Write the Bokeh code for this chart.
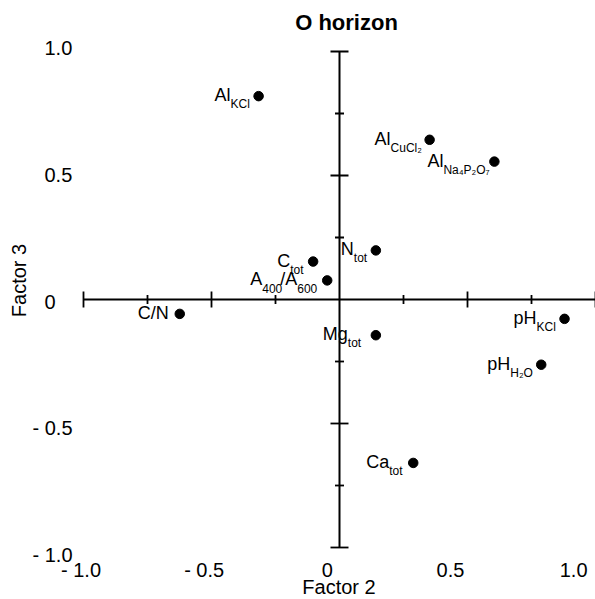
import math
from bokeh.plotting import figure
from bokeh.models import ColumnDataSource, Range1d
from bokeh.embed import file_html
from bokeh.resources import INLINE
from bokeh.core.properties import value

# ---------------- data ----------------
variables = ["Al_KCl", "Al_CuCl2", "Al_Na4P2O7", "N_tot", "C_tot", "A400/A600",
             "Mg_tot", "C/N", "pH_KCl", "pH_H2O", "Ca_tot"]
factor2 = [-0.316, 0.352, 0.605, 0.142, -0.103, -0.048, 0.142, -0.624, 0.879, 0.788, 0.288]
factor3 = [0.820, 0.644, 0.556, 0.198, 0.153, 0.077, -0.144, -0.058, -0.078, -0.263, -0.659]
label_main = [["Al"], ["Al"], ["Al"], ["N"], ["C"], ["A", "/A"], ["Mg"], ["C/N"], ["pH"], ["pH"], ["Ca"]]
label_sub = [["KCl"], ["CuCl\u2082"], ["Na\u2084P\u2082O\u2087"], ["tot"], ["tot"], ["400", "600"],
             ["tot"], [""], ["KCl"], ["H\u2082O"], ["tot"]]

axis_limits = [-1.0, 1.0]
ticks_major = [-1.0, -0.5, 0.5, 1.0]
ticks_minor = [-0.75, -0.25, 0.25, 0.75]
tick_values = [-1.0, -0.5, 0.0, 0.5, 1.0]
tick_labels = ["- 1.0", "- 0.5", "0", "0.5", "1.0"]
title_text = "O horizon"
xlabel_text = "Factor 2"
ylabel_text = "Factor 3"

# ---------------- layout (styling) ----------------
W, H = 595, 599
PAGE = 0
X0, XS = 339.0, 256.0   # page px of x=0, px per unit
Y0, YS = 299.0, 248.0   # page px of y=0, px per unit
# label junction offsets (px from point) where main text ends / subscript starts
junction_dx = [[-28], [-39], [-51], [-22], [-23], [-65, -30], [-28], [-11], [-28], [-31], [-24]]
FONT = value("Liberation Sans")


def px2x(px):
    return (px - X0) / XS


def py2y(py):
    return (Y0 - py) / YS


p = figure(width=W, height=H,
           x_range=Range1d(px2x(PAGE), px2x(PAGE + W)),
           y_range=Range1d(py2y(PAGE + H), py2y(PAGE)),
           x_axis_location=None, y_axis_location=None,
           toolbar_location=None, output_backend="svg",
           min_border=0, outline_line_color=None)
p.background_fill_color = "white"
p.border_fill_color = "white"
p.xgrid.grid_line_color = None
p.ygrid.grid_line_color = None

# separate scales for the printed tick labels (as placed in the original)
LX0, LXS = 326.8, 246.3
LY0, LYS = 301.0, 253.2
p.extra_x_ranges = {"xlab": Range1d((PAGE - LX0) / LXS, (PAGE + W - LX0) / LXS)}
p.extra_y_ranges = {"ylab": Range1d((LY0 - (PAGE + H)) / LYS, (LY0 - PAGE) / LYS)}

# cross axes
p.segment(x0=[axis_limits[0], 0], y0=[0, axis_limits[0]],
          x1=[axis_limits[1], 0], y1=[0, axis_limits[1]],
          line_color="black", line_width=2)
# ticks on horizontal axis
p.scatter(x=ticks_major, y=[0] * len(ticks_major), marker="dash", angle=math.pi / 2,
          size=16, line_color="black", line_width=1.8)
p.scatter(x=ticks_minor, y=[0] * len(ticks_minor), marker="dash", angle=math.pi / 2,
          size=9, line_color="black", line_width=1.8)
# ticks on vertical axis
p.scatter(x=[0] * len(ticks_major), y=ticks_major, marker="dash",
          size=18, line_color="black", line_width=1.8)
p.scatter(x=[0] * len(ticks_minor), y=ticks_minor, marker="dash",
          size=9, line_color="black", line_width=1.8)

# points
p.scatter(x=factor2, y=factor3, size=9.5, color="black")

# point labels
mx, my, mt, mdx = [], [], [], []
sx, sy, st, sdx = [], [], [], []
for i in range(len(variables)):
    for m, s, j in zip(label_main[i], label_sub[i], junction_dx[i]):
        mx.append(factor2[i]); my.append(factor3[i]); mt.append(m); mdx.append(j)
        if s:
            sx.append(factor2[i]); sy.append(factor3[i]); st.append(s); sdx.append(j)

main_src = ColumnDataSource(dict(x=mx, y=my, text=mt, dx=mdx))
sub_src = ColumnDataSource(dict(x=sx, y=sy, text=st, dx=sdx))
p.text(x="x", y="y", text="text", x_offset="dx", y_offset=-1, source=main_src,
       text_align="right", text_baseline="middle", text_font=FONT,
       text_font_size="18px", text_color="black")
p.text(x="x", y="y", text="text", x_offset="dx", y_offset=8, source=sub_src,
       text_align="left", text_baseline="middle", text_font=FONT,
       text_font_size="12px", text_color="black")

# tick labels
p.text(x=tick_values, y=[py2y(569)] * len(tick_values), text=tick_labels,
       x_range_name="xlab", text_align="center", text_baseline="middle",
       text_font=FONT, text_font_size="20px", text_color="black")
p.text(x=[px2x(44)] * len(tick_values), y=tick_values, text=tick_labels,
       y_range_name="ylab", x_offset=[-12 if t.startswith("-") else 0 for t in tick_labels],
       text_align="left", text_baseline="middle",
       text_font=FONT, text_font_size="20px", text_color="black")

# titles
p.text(x=[px2x(346)], y=[py2y(22)], text=[title_text], text_align="center",
       text_baseline="middle", text_font=FONT, text_font_size="22px",
       text_font_style="bold", text_color="black")
p.text(x=[px2x(338.5)], y=[py2y(586)], text=[xlabel_text], text_align="center",
       text_baseline="middle", text_font=FONT, text_font_size="20px", text_color="black")
p.text(x=[px2x(18.5)], y=[py2y(280)], text=[ylabel_text], angle=math.pi / 2,
       text_align="center", text_baseline="middle", text_font=FONT,
       text_font_size="20px", text_color="black")

open("out.html", "w").write(file_html(p, INLINE))
